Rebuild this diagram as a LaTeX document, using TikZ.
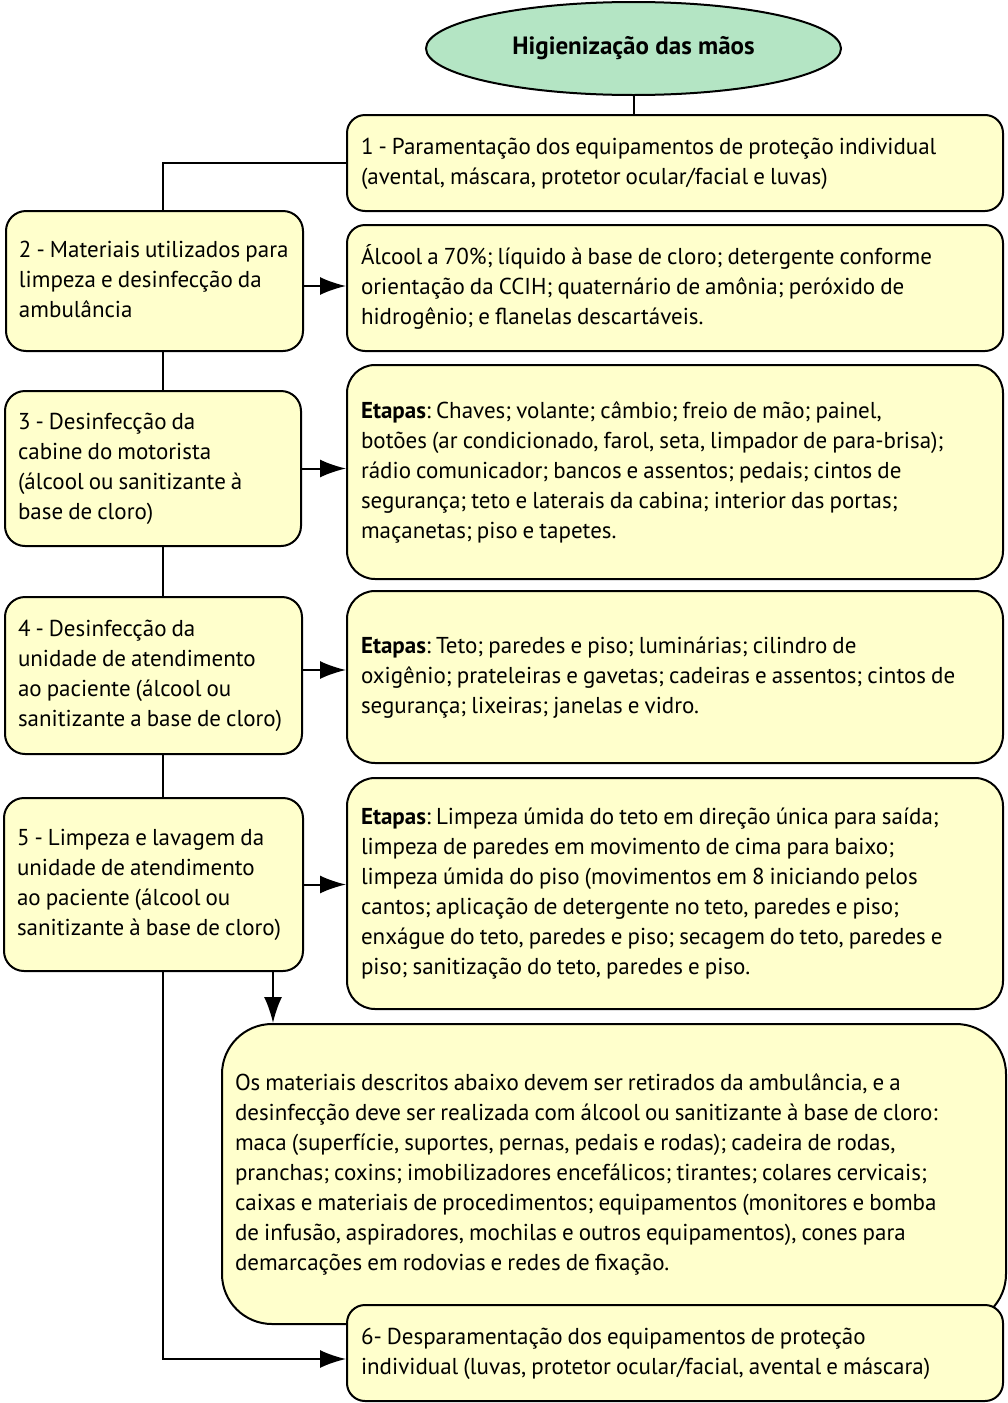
\documentclass[tikz,border=0pt]{standalone}
\usepackage{fontspec}
\setmainfont{PT Sans}
\usepackage{tikz}
\usetikzlibrary{arrows.meta,%
                shapes.geometric}
\definecolor{boxfill}{HTML}{FFFFCC}
\definecolor{ovalfill}{HTML}{B4E5C4}
\frenchspacing
% lines as typed, flush left, never rebroken
\newcommand{\rows}[1]{\spaceskip=0.22em plus 0.1em minus 0.05em\relax%
	\makebox[\linewidth][l]{\begin{tabular}{@{}l@{}}#1\end{tabular}}}

\begin{document}
\begin{tikzpicture}[x=1pt,y=-1pt,
	box/.style={draw, line width=2pt, fill=boxfill, rounded corners=18pt,
		anchor=north west, align=left, inner xsep=13pt, inner ysep=0pt,
		font=\fontsize{23}{30}\selectfont},
	arr/.style={line width=2pt, -{Latex[length=26pt,width=18pt]}}]
	\useasboundingbox (0,0) rectangle (1008,1403);

	\node[draw, line width=2pt, fill=ovalfill, ellipse, inner sep=0pt,
		minimum width=415pt, minimum height=93pt,
		font=\fontsize{25}{28}\selectfont\bfseries] (top) at (633.5,48.5) {Higienização das mãos};

	\node[box, minimum width=656pt, minimum height=96pt, text width=628pt] (b1) at (346,114)
		{\rows{1 - Paramentação dos equipamentos de proteção individual\\(avental, máscara, protetor ocular/facial e luvas)}};

	\node[box, rounded corners=20pt, minimum width=297pt, minimum height=140pt, text width=271pt] (b2) at (5,210)
		{\rows{2 - Materiais utilizados para\\limpeza e desinfecção da\\ambulância}};
	\node[box, minimum width=656pt, minimum height=126pt, text width=628pt] (d2) at (346,224)
		{\rows{Álcool a 70\%; líquido à base de cloro; detergente conforme\\orientação da CCIH; quaternário de amônia; peróxido de\\hidrogênio; e flanelas descartáveis.}};

	\node[box, rounded corners=20pt, minimum width=296pt, minimum height=155pt, text width=270pt] (b3) at (4,390)
		{\rows{3 - Desinfecção da\\cabine do motorista\\(álcool ou sanitizante à\\base de cloro)}};
	\node[box, rounded corners=28pt, minimum width=656pt, minimum height=214pt, text width=628pt] (d3) at (346,364)
		{\rows{\textbf{Etapas}: Chaves; volante; câmbio; freio de mão; painel,\\botões (ar condicionado, farol, seta, limpador de para-brisa);\\rádio comunicador; bancos e assentos; pedais; cintos de\\segurança; teto e laterais da cabina; interior das portas;\\maçanetas; piso e tapetes.}};

	\node[box, rounded corners=20pt, minimum width=297pt, minimum height=157pt, text width=271pt] (b4) at (4,596)
		{\rows{4 - Desinfecção da\\unidade de atendimento\\ao paciente (álcool ou\\sanitizante a base de cloro)}};
	\node[box, rounded corners=28pt, minimum width=656pt, minimum height=172pt, text width=628pt] (d4) at (346,590)
		{\rows{\textbf{Etapas}: Teto; paredes e piso; luminárias; cilindro de\\oxigênio; prateleiras e gavetas; cadeiras e assentos; cintos de\\segurança; lixeiras; janelas e vidro.}};

	\node[box, rounded corners=20pt, minimum width=299pt, minimum height=173pt, text width=273pt] (b5) at (3,797)
		{\rows{5 - Limpeza e lavagem da\\unidade de atendimento\\ao paciente (álcool ou\\sanitizante à base de cloro)}};
	\node[box, rounded corners=28pt, minimum width=656pt, minimum height=231pt, text width=628pt] (d5) at (346,777)
		{\rows{\textbf{Etapas}: Limpeza úmida do teto em direção única para saída;\\limpeza de paredes em movimento de cima para baixo;\\limpeza úmida do piso (movimentos em 8 iniciando pelos\\cantos; aplicação de detergente no teto, paredes e piso;\\enxágue do teto, paredes e piso; secagem do teto, paredes e\\piso; sanitização do teto, paredes e piso.}};

	\node[box, rounded corners=50pt, minimum width=784pt, minimum height=300pt, text width=758pt] (big) at (221,1023)
		{\rows{Os materiais descritos abaixo devem ser retirados da ambulância, e a\\desinfecção deve ser realizada com álcool ou sanitizante à base de cloro:\\maca (superfície, suportes, pernas, pedais e rodas); cadeira de rodas,\\pranchas; coxins; imobilizadores encefálicos; tirantes; colares cervicais;\\caixas e materiais de procedimentos; equipamentos (monitores e bomba\\de infusão, aspiradores, mochilas e outros equipamentos), cones para\\demarcações em rodovias e redes de fixação.}};

	\node[box, minimum width=656pt, minimum height=96pt, text width=628pt] (b6) at (346,1304)
		{\rows{6- Desparamentação dos equipamentos de proteção\\individual (luvas, protetor ocular/facial, avental e máscara)}};

	\coordinate (spine) at (163,0);
	\coordinate (drop) at (273,0);

	\begin{scope}[every path/.style={line width=2pt}]
		\draw (top.south) -- (top.south |- b1.north);
		\draw (b1.west) -| (spine |- b2.north);
		\draw (spine |- b2.south) -- (spine |- b3.north);
		\draw (spine |- b3.south) -- (spine |- b4.north);
		\draw (spine |- b4.south) -- (spine |- b5.north);
		\draw[arr] ([yshift=-5pt]b2.east) -- ([yshift=-5pt]b2.east -| d2.west);
		\draw[arr] (b3.east) -- (b3.east -| d3.west);
		\draw[arr] ([yshift=5.5pt]b4.east) -- ([yshift=5.5pt]b4.east -| d4.west);
		\draw[arr] (b5.east) -- (b5.east -| d5.west);
		\draw[arr] (drop |- b5.south) -- (drop |- big.north);
		\draw[arr] (spine |- b5.south) |- ([yshift=-6pt]b6.west);
	\end{scope}
\end{tikzpicture}
\end{document}
